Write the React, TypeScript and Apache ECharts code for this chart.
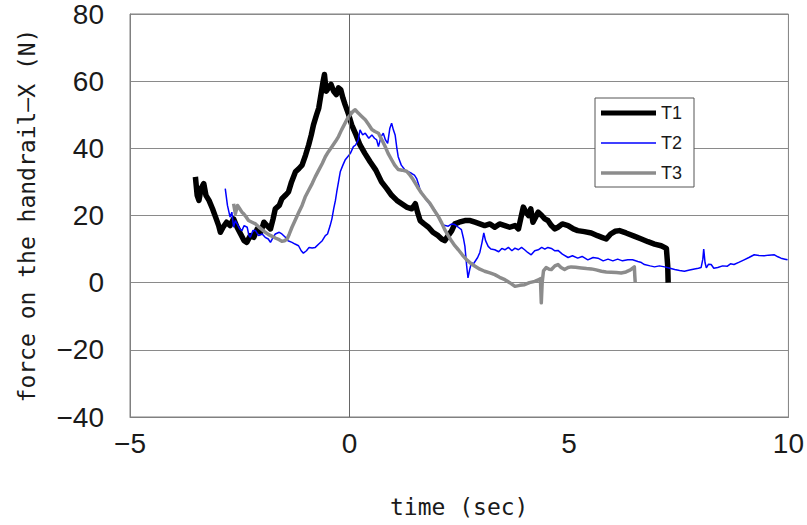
import React, { useEffect, useRef } from "react";
import * as echarts from "echarts";

const seriesNames = ["T1", "T2", "T3"];
const xTicks = [-5, 0, 5, 10];
const yTicks = [-40, -20, 0, 20, 40, 60, 80];

const t1: [number, number][] = [
  [-3.51, 31.5], [-3.47, 26], [-3.43, 24.5], [-3.38, 28], [-3.32, 29.5], [-3.27, 26], [-3.2, 24.5], [-3.12, 22],
  [-3.05, 19.5], [-2.98, 17], [-2.94, 15], [-2.88, 16.5], [-2.8, 18], [-2.72, 17], [-2.64, 19], [-2.56, 16.5],
  [-2.48, 14.5], [-2.4, 12.5], [-2.34, 12], [-2.26, 14], [-2.18, 13.5], [-2.1, 16], [-2.02, 15], [-1.95, 18],
  [-1.88, 17], [-1.8, 16], [-1.74, 19], [-1.69, 22], [-1.6, 23], [-1.54, 25], [-1.46, 26], [-1.39, 27],
  [-1.32, 30], [-1.23, 33], [-1.15, 34], [-1.08, 35], [-1.0, 38], [-0.93, 41], [-0.87, 44], [-0.82, 47],
  [-0.75, 50], [-0.7, 52], [-0.65, 56], [-0.6, 60], [-0.57, 62], [-0.53, 57], [-0.48, 58], [-0.42, 59],
  [-0.36, 57], [-0.3, 56], [-0.25, 58], [-0.2, 57.5], [-0.15, 55], [-0.1, 53], [-0.03, 50.5], [0.05, 47],
  [0.15, 44], [0.24, 41], [0.35, 38.5], [0.47, 36], [0.6, 33.5], [0.73, 30], [0.85, 28], [0.96, 26],
  [1.08, 24.5], [1.19, 23.5], [1.3, 22.5], [1.42, 22], [1.5, 23.5], [1.55, 21], [1.61, 18.5], [1.7, 17.5],
  [1.8, 16.5], [1.9, 15], [2.02, 14], [2.1, 13], [2.17, 12.5], [2.25, 14], [2.33, 15.5], [2.4, 17.5],
  [2.5, 18], [2.63, 18.5], [2.75, 18.5], [2.86, 18], [2.97, 17.5], [3.08, 17], [3.2, 17.5], [3.31, 16.5],
  [3.42, 17.5], [3.54, 17], [3.65, 16.5], [3.77, 17], [3.85, 16], [3.9, 19], [3.96, 22.5], [4.02, 21],
  [4.08, 20], [4.13, 22], [4.18, 18], [4.24, 19.5], [4.3, 21], [4.38, 20], [4.45, 19], [4.52, 18.5],
  [4.6, 17], [4.68, 16], [4.75, 16.5], [4.85, 17.5], [4.98, 17], [5.1, 16], [5.2, 15.5], [5.35, 15.2],
  [5.51, 14.8], [5.65, 14], [5.75, 13.5], [5.85, 13], [5.95, 14.5], [6.05, 15.3], [6.15, 15.5], [6.3, 14.8],
  [6.5, 13.8], [6.65, 13], [6.8, 12.2], [6.95, 11.5], [7.1, 11], [7.22, 10.2], [7.25, 5], [7.26, 0],
];

const t2: [number, number][] = [
  [-2.83, 28], [-2.78, 23], [-2.72, 19.5], [-2.68, 21], [-2.64, 16.5], [-2.6, 18.5], [-2.56, 17.5], [-2.5, 16],
  [-2.45, 15.5], [-2.4, 17], [-2.33, 16.5], [-2.29, 14], [-2.26, 13.5], [-2.2, 15.5], [-2.14, 15.5], [-2.07, 14],
  [-1.99, 14.5], [-1.92, 13.5], [-1.85, 13], [-1.8, 12], [-1.74, 13.5], [-1.69, 14.5], [-1.6, 15], [-1.54, 14.5],
  [-1.46, 13.5], [-1.4, 12.5], [-1.31, 12], [-1.24, 11.5], [-1.16, 11], [-1.1, 9.5], [-1.05, 8.8], [-0.98, 9.5],
  [-0.92, 10.5], [-0.85, 10.3], [-0.78, 10.5], [-0.7, 11.5], [-0.62, 12.5], [-0.55, 14], [-0.5, 14.5], [-0.44, 17],
  [-0.4, 19], [-0.36, 22], [-0.32, 24.5], [-0.29, 27], [-0.25, 30], [-0.21, 33], [-0.15, 35], [-0.1, 36.5],
  [-0.04, 37.5], [0.02, 38.5], [0.09, 40.5], [0.14, 41], [0.2, 42.5], [0.24, 45.5], [0.3, 44], [0.36, 44.5],
  [0.44, 43], [0.51, 44], [0.57, 43], [0.62, 42.5], [0.66, 40.5], [0.72, 43.5], [0.77, 44.5], [0.82, 42.5],
  [0.87, 41.5], [0.92, 46], [0.96, 47.5], [1.0, 45.5], [1.04, 44], [1.08, 40], [1.11, 37.5], [1.18, 35],
  [1.27, 33.5], [1.35, 33], [1.42, 32.5], [1.48, 32], [1.53, 31], [1.58, 29], [1.61, 27.5], [1.68, 26],
  [1.76, 24.5], [1.85, 23], [1.95, 21.5], [2.02, 19.5], [2.1, 17.5], [2.18, 17], [2.25, 16.8], [2.33, 17.5],
  [2.4, 17.3], [2.48, 16.5], [2.55, 15.8], [2.6, 13], [2.63, 10.8], [2.67, 5], [2.7, 1.4], [2.74, 4],
  [2.78, 6], [2.82, 5.5], [2.86, 6.3], [2.92, 7.5], [2.97, 9], [3.02, 12], [3.06, 14.8], [3.1, 12.5],
  [3.16, 10.8], [3.22, 10], [3.31, 9.8], [3.4, 9.2], [3.47, 10.2], [3.54, 9.8], [3.62, 10.5], [3.7, 9.5],
  [3.77, 10.3], [3.85, 9.8], [3.92, 10.5], [3.99, 9.8], [4.06, 9], [4.14, 8.3], [4.22, 9.5], [4.3, 9.8],
  [4.38, 10.5], [4.45, 10], [4.52, 10.5], [4.6, 10.2], [4.68, 9.5], [4.75, 9.6], [4.85, 8.5], [4.98, 7.5],
  [5.08, 8], [5.2, 7.3], [5.3, 7.8], [5.43, 6.8], [5.55, 7.5], [5.66, 7.3], [5.78, 6.5], [5.89, 7],
  [6.0, 6.5], [6.11, 7], [6.22, 6.5], [6.34, 6.8], [6.45, 6.8], [6.57, 6.3], [6.65, 6], [6.72, 5.4],
  [6.85, 5], [6.95, 4.7], [7.06, 5], [7.18, 4.7], [7.3, 4.3], [7.41, 3.9], [7.52, 3.6], [7.63, 3.4],
  [7.75, 3.8], [7.86, 4.1], [7.95, 4.3], [8.01, 4.5], [8.05, 7], [8.07, 10], [8.1, 6], [8.13, 4.4],
  [8.18, 5.5], [8.24, 5.4], [8.3, 4.3], [8.39, 4.5], [8.5, 5], [8.61, 4.9], [8.68, 5.6], [8.76, 5.4],
  [8.88, 6.1], [8.99, 6.8], [9.1, 7.5], [9.22, 8.3], [9.33, 8.1], [9.45, 8], [9.55, 8.2], [9.68, 8.3],
  [9.76, 7.7], [9.83, 7.3], [9.92, 7.0], [9.98, 6.8],
];

const t3: [number, number][] = [
  [-2.64, 23.5], [-2.6, 20.5], [-2.55, 23], [-2.5, 22], [-2.45, 21], [-2.41, 20.5], [-2.35, 19.5], [-2.3, 18.5],
  [-2.22, 18], [-2.14, 17.5], [-2.06, 16.5], [-1.99, 15.8], [-1.92, 15], [-1.84, 14.3], [-1.76, 13.8], [-1.69, 13.3],
  [-1.6, 12.8], [-1.54, 12.3], [-1.48, 12.5], [-1.42, 13], [-1.37, 14.5], [-1.31, 16.5], [-1.24, 18.5], [-1.16, 20.8],
  [-1.08, 23], [-1.01, 25.5], [-0.93, 27.5], [-0.85, 29.5], [-0.78, 31.5], [-0.7, 33.5], [-0.62, 35.5], [-0.55, 37.5],
  [-0.48, 39], [-0.4, 40.5], [-0.32, 42], [-0.25, 43.5], [-0.18, 45.5], [-0.1, 47.5], [-0.04, 49], [0.02, 50],
  [0.08, 51], [0.13, 51.5], [0.2, 50.5], [0.28, 49.5], [0.36, 48.5], [0.44, 47], [0.51, 45.6], [0.58, 45],
  [0.66, 44.5], [0.74, 42.5], [0.81, 40.6], [0.88, 38.5], [0.96, 36.6], [1.03, 35], [1.11, 33.7], [1.2, 33.5],
  [1.3, 33.2], [1.38, 32], [1.45, 30.7], [1.55, 28.5], [1.64, 26.7], [1.73, 25.2], [1.83, 23.7], [1.92, 21.8],
  [2.02, 19.8], [2.1, 17.8], [2.17, 15.8], [2.25, 14], [2.33, 12.3], [2.4, 11], [2.48, 9.8], [2.57, 8.3],
  [2.67, 6.8], [2.76, 5.8], [2.86, 4.9], [2.97, 4], [3.08, 3.4], [3.2, 2.9], [3.31, 2.4], [3.42, 1.6],
  [3.54, 0.9], [3.65, 0], [3.77, -1.1], [3.88, -0.8], [3.99, -0.6], [4.1, 0], [4.22, 0.4], [4.3, 0.8],
  [4.35, 1.2], [4.37, -6], [4.39, 0], [4.42, 3.5], [4.48, 4.5], [4.55, 4], [4.6, 3.9], [4.68, 5],
  [4.75, 5.4], [4.82, 4.5], [4.9, 3.9], [4.98, 4.5], [5.05, 4.7], [5.15, 4.6], [5.28, 4.4], [5.4, 4.2],
  [5.51, 4.1], [5.62, 3.8], [5.74, 3.4], [5.85, 3.2], [5.96, 3.1], [6.08, 3], [6.19, 2.9], [6.3, 3.2],
  [6.4, 3.8], [6.49, 4.7], [6.5, 2], [6.51, 0],
];

const minusFmt = (v: number) => String(v).replace("-", "\u2212");

export default function App() {
  const ref = useRef<HTMLDivElement>(null);
  useEffect(() => {
    if (!ref.current) return;
    const chart = echarts.init(ref.current, undefined, { renderer: "svg" });
    const labelFont = { fontFamily: "Liberation Sans, Arial, sans-serif", fontSize: 28, color: "#1a1a1a" };
    const nameFont = { fontFamily: "DejaVu Sans Mono, monospace", fontSize: 23, color: "#1a1a1a" };
    const legendIcons = [
      "path://M0,0H110V10H0Z",
      "path://M0,0H110V3H0Z",
      "path://M0,0H110V7H0Z",
    ];
    chart.setOption({
      animation: false,
      backgroundColor: "#ffffff",
      grid: {
        left: 130, right: 16, top: 14, bottom: 108,
        show: true, borderColor: "#808080", borderWidth: 1,
      },
      legend: {
        orient: "vertical",
        left: 595,
        top: 98,
        data: seriesNames.map((n, i) => ({ name: n, icon: legendIcons[i] })),
        backgroundColor: "#ffffff",
        borderColor: "#555555",
        borderWidth: 1,
        padding: [6, 12, 5, 6],
        itemGap: 12,
        itemWidth: 55,
        itemHeight: 20,
        textStyle: { fontFamily: "Liberation Sans, Arial, sans-serif", fontSize: 18, color: "#1a1a1a" },
      },
      xAxis: {
        type: "value",
        min: xTicks[0],
        max: xTicks[xTicks.length - 1],
        interval: 5,
        name: "time (sec)",
        nameLocation: "middle",
        nameGap: 78,
        nameTextStyle: nameFont,
        axisLine: { show: true, onZero: false, lineStyle: { color: "#808080" } },
        axisTick: { show: false },
        splitLine: { show: false },
        axisLabel: { ...labelFont, margin: 12, formatter: minusFmt },
      },
      yAxis: {
        type: "value",
        min: yTicks[0],
        max: yTicks[yTicks.length - 1],
        interval: 20,
        name: "force on the handrail\u2013X (N)",
        nameLocation: "middle",
        nameGap: 92,
        nameTextStyle: nameFont,
        axisLine: { show: true, onZero: false, lineStyle: { color: "#808080" } },
        axisTick: { show: false },
        splitLine: { show: true, lineStyle: { color: "#8a8a8a", width: 1 } },
        axisLabel: { ...labelFont, margin: 26, formatter: minusFmt },
      },
      series: [
        {
          name: "T2",
          type: "line",
          data: t2,
          showSymbol: false,
          symbol: "none",
          z: 3,
          lineStyle: { color: "#0000ff", width: 1.5 },
          itemStyle: { color: "#0000ff" },
          markLine: {
            silent: true,
            symbol: "none",
            label: { show: false },
            lineStyle: { color: "#666666", width: 1, type: "solid" },
            data: [{ xAxis: 0 }],
          },
        },
        {
          name: "T1",
          type: "line",
          data: t1,
          showSymbol: false,
          symbol: "none",
          z: 2,
          lineStyle: { color: "#000000", width: 5.5, join: "round" },
          itemStyle: { color: "#000000" },
        },
        {
          name: "T3",
          type: "line",
          data: t3,
          showSymbol: false,
          symbol: "none",
          z: 4,
          lineStyle: { color: "#8c8c8c", width: 3.5, join: "round" },
          itemStyle: { color: "#8c8c8c" },
        },
      ],
    });
    return () => chart.dispose();
  }, []);
  return (
    <div
      ref={ref}
      style={{ position: "absolute", left: 0, top: 0, width: 807, height: 525 }}
    />
  );
}
